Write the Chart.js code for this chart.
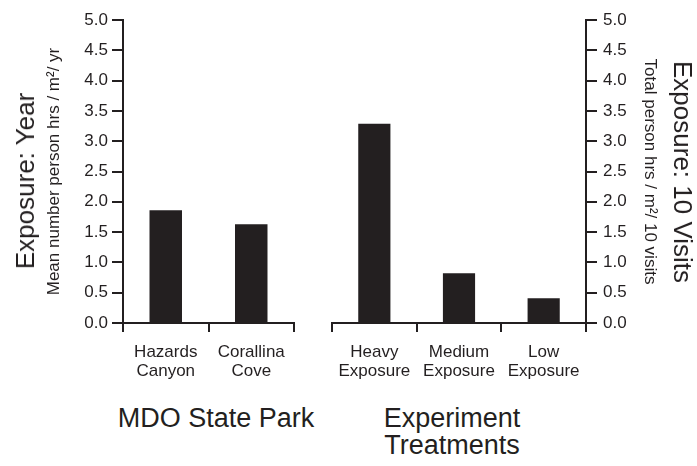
<!DOCTYPE html>
<html>
<head>
<meta charset="utf-8">
<script src="https://cdn.jsdelivr.net/npm/chart.js@4/dist/chart.umd.min.js"></script>
<style>
  body { margin: 0; background: #fff; }
  #wrap { position: relative; width: 697px; height: 466px; overflow: hidden; font-family: "Liberation Sans", Arial, Helvetica, sans-serif; color: #231f20; }
  canvas { position: absolute; top: 0; }
  .big { position: absolute; font-size: 26px; line-height: 26px; white-space: nowrap; }
  .rot { transform: translate(-50%, -50%) rotate(-90deg); }
  .rotR { transform: translate(-50%, -50%) rotate(90deg); }
  .group { position: absolute; font-size: 27px; line-height: 27px; text-align: center; white-space: nowrap; transform: translateX(-50%); }
</style>
</head>
<body>
<div id="wrap">
  <canvas id="parkChart" width="300" height="400" style="left:0"></canvas>
  <canvas id="treatChart" width="387" height="400" style="left:310px"></canvas>
  <div class="big rot" style="left:25px; top:181px">Exposure: Year</div>
  <div class="big rotR" style="left:683px; top:172px">Exposure: 10 Visits</div>
  <div class="group" style="left:216px; top:405px">MDO State Park</div>
  <div class="group" style="left:452px; top:405px">Experiment<br>Treatments</div>
</div>
<script>
// categorias e valores
const parkLabels = [['Hazards', 'Canyon'], ['Corallina', 'Cove']];
const parkValues = [1.86, 1.63];
const treatLabels = [['Heavy', 'Exposure'], ['Medium', 'Exposure'], ['Low', 'Exposure']];
const treatValues = [3.29, 0.82, 0.41];
const yMax = 5;
const yStep = 0.5;

const ink = '#231f20';
const fam = '"Liberation Sans", Arial, Helvetica, sans-serif';

function barData(labels, values) {
  return {
    labels: labels,
    datasets: [{
      data: values,
      backgroundColor: ink,
      borderWidth: 0,
      categoryPercentage: 1,
      barPercentage: 0.38
    }]
  };
}

function xAxis() {
  return {
    grid: { drawOnChartArea: false, drawTicks: true, tickLength: 9, color: ink, lineWidth: 2 },
    border: { display: true, color: ink, width: 2 },
    ticks: { color: ink, font: { family: fam, size: 17, lineHeight: 1.1 }, padding: 11, maxRotation: 0 },
    afterFit: s => { s.height = 77; }
  };
}

function yAxis(pos, title, titlePad, width) {
  return {
    position: pos,
    min: 0,
    max: yMax,
    grid: { drawOnChartArea: false, drawTicks: true, tickLength: 11, color: ink, lineWidth: 2 },
    border: { display: true, color: ink, width: 2 },
    ticks: {
      stepSize: yStep,
      color: ink,
      padding: pos === 'left' ? 4 : 6,
      font: { family: fam, size: 17 },
      callback: v => v.toFixed(1)
    },
    title: {
      display: true,
      text: title,
      color: ink,
      font: { family: fam, size: 17 },
      padding: { top: titlePad, bottom: 0 }
    },
    afterFit: s => { s.width = width; }
  };
}

const common = {
  responsive: false,
  animation: false,
  devicePixelRatio: 1,
  plugins: { legend: { display: false }, tooltip: { enabled: false } }
};

new Chart(document.getElementById('parkChart').getContext('2d'), {
  type: 'bar',
  data: barData(parkLabels, parkValues),
  options: {
    ...common,
    layout: { padding: { top: 20, right: 6, bottom: 0, left: 0 } },
    scales: {
      x: xAxis(),
      y: yAxis('left', 'Mean number person hrs / m\u00b2/ yr', 44, 123)
    }
  }
});

new Chart(document.getElementById('treatChart').getContext('2d'), {
  type: 'bar',
  data: barData(treatLabels, treatValues),
  options: {
    ...common,
    layout: { padding: { top: 20, right: 0, bottom: 0, left: 22 } },
    scales: {
      x: xAxis(),
      y: yAxis('right', 'Total person hrs / m\u00b2/ 10 visits', 37, 111)
    }
  }
});
</script>
</body>
</html>
